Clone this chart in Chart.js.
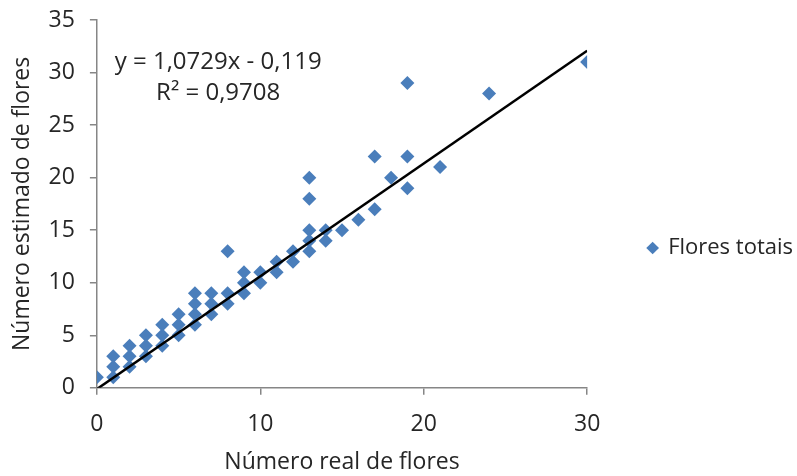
<!DOCTYPE html>
<html lang="pt">
<head>
<meta charset="utf-8">
<title>Número estimado vs. número real de flores</title>
<script src="https://cdn.jsdelivr.net/npm/chart.js@4/dist/chart.umd.min.js"></script>
<style>
  html, body { margin: 0; padding: 0; background: #ffffff; }
  #wrap { width: 797px; height: 476px; }
</style>
</head>
<body>
<div id="wrap"><canvas id="chart" width="797" height="476"></canvas></div>
<script>
// Valores (Excel): número real × número estimado de flores
const REAL = [
  0,
  1, 1, 1,
  2, 2, 2,
  3, 3, 3,
  4, 4, 4,
  5, 5, 5,
  6, 6, 6, 6,
  7, 7, 7,
  8, 8, 8,
  9, 9, 9,
  10, 10,
  11, 11,
  12, 12,
  13, 13, 13, 13, 13,
  14, 14,
  15, 16,
  17, 17,
  18,
  19, 19, 19,
  21, 24, 30,
];
const ESTIMADO = [
  1,
  1, 2, 3,
  2, 3, 4,
  3, 4, 5,
  4, 5, 6,
  5, 6, 7,
  6, 7, 8, 9,
  7, 8, 9,
  8, 9, 13,
  9, 10, 11,
  10, 11,
  11, 12,
  12, 13,
  13, 14, 15, 18, 20,
  14, 15,
  15, 16,
  17, 22,
  20,
  19, 22, 29,
  21, 28, 31,
];

// Linha de tendência linear (extremos em x = 0 e x = 30)
const TREND_X = [0, 30];
const TREND_Y = [-0.119, 32.068];

const X_TICKS = [0, 10, 20, 30];
const Y_TICKS = [0, 5, 10, 15, 20, 25, 30, 35];

const EQ_LINES = ["y = 1,0729x - 0,119", "R² = 0,9708"];

const BLUE = "#4a7ebb";
const AXIS = "#868686";
const INK = "#262626";
const FONT = '"Open Sans", "Noto Sans", sans-serif';

Chart.defaults.font.family = FONT;
Chart.defaults.font.size = 23;
Chart.defaults.color = INK;

const points = REAL.map((x, i) => ({ x, y: ESTIMADO[i] }));
const trend = TREND_X.map((x, i) => ({ x, y: TREND_Y[i] }));

function fixedTicks(values) {
  return (scale) => {
    scale.ticks = values.map((v) => ({ value: v }));
  };
}

// Equação e R² no canto superior esquerdo, como o rótulo do Excel
const equationLabel = {
  id: "equationLabel",
  afterDatasetsDraw(chart) {
    const { ctx, scales } = chart;
    const cx = scales.x.getPixelForValue(7.42);
    const top = scales.y.getPixelForValue(31.0);
    ctx.save();
    ctx.font = `24px ${FONT}`;
    ctx.fillStyle = INK;
    ctx.textAlign = "center";
    ctx.textBaseline = "middle";
    EQ_LINES.forEach((line, i) => ctx.fillText(line, cx, top + i * 31));
    ctx.restore();
  },
};

const axisCommon = {
  type: "linear",
  grid: {
    display: true,
    drawOnChartArea: false,
    drawTicks: true,
    tickLength: 7,
    color: AXIS,
    lineWidth: 1.5,
  },
  border: { display: true, color: AXIS, width: 1.5 },
};

new Chart(document.getElementById("chart"), {
  type: "scatter",
  data: {
    datasets: [
      {
        label: "Flores totais",
        data: points,
        backgroundColor: BLUE,
        borderColor: BLUE,
        pointStyle: "rectRot",
        pointRadius: 7,
        pointBorderWidth: 0,
        order: 2,
      },
      {
        type: "line",
        label: "Linear",
        data: trend,
        borderColor: "#000000",
        borderWidth: 2.5,
        pointRadius: 0,
        fill: false,
        order: 1,
      },
    ],
  },
  options: {
    responsive: false,
    animation: false,
    devicePixelRatio: 1,
    layout: { padding: { top: 20, left: 0, right: -6, bottom: 0 } },
    plugins: {
      legend: {
        position: "right",
        maxWidth: 260,
        labels: {
          usePointStyle: true,
          boxWidth: 9,
          boxHeight: 9,
          padding: 61,
          color: INK,
          font: { size: 22 },
          filter: (item) => item.datasetIndex === 0,
        },
      },
      tooltip: { enabled: false },
    },
    scales: {
      x: {
        ...axisCommon,
        min: 0,
        max: 30,
        afterBuildTicks: fixedTicks(X_TICKS),
        ticks: { padding: 16, maxRotation: 0 },
        title: {
          display: true,
          text: "Número real de flores",
          font: { size: 23 },
          padding: { top: -6, bottom: 0 },
        },
      },
      y: {
        ...axisCommon,
        min: 0,
        max: 35,
        afterBuildTicks: fixedTicks(Y_TICKS),
        // lineHeight reduzido só para não reservar espaço extra acima do 35
        ticks: { padding: 15, font: { size: 23, lineHeight: 0.4 } },
        title: {
          display: true,
          text: "Número estimado de flores",
          font: { size: 23 },
          padding: { top: 9, bottom: -3 },
        },
      },
    },
  },
  plugins: [equationLabel],
});
</script>
</body>
</html>
